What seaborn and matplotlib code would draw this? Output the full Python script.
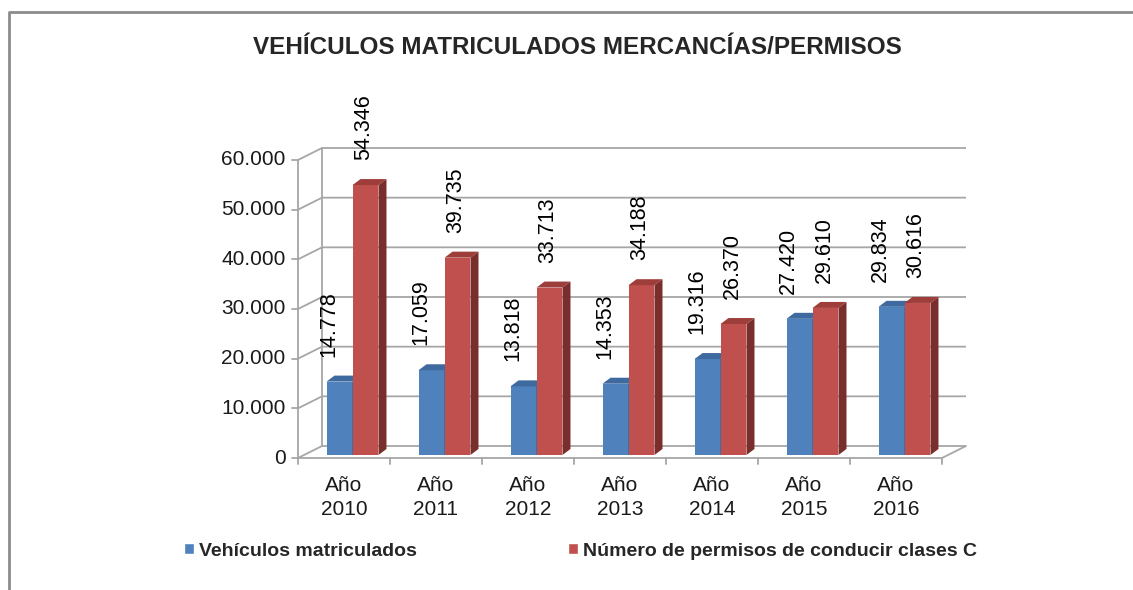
import pandas as pd
import matplotlib.pyplot as plt
import seaborn as sns
from matplotlib.patches import Polygon, Patch

years = ['2010', '2011', '2012', '2013', '2014', '2015', '2016']
vehiculos = [14778, 17059, 13818, 14353, 19316, 27420, 29834]
permisos = [54346, 39735, 33713, 34188, 26370, 29610, 30616]
series = ['Vehículos matriculados', 'Número de permisos de conducir clases C']
y_ticks = [0, 10000, 20000, 30000, 40000, 50000, 60000]

sns.set_style('white')
plt.rcParams['font.family'] = ['Liberation Sans', 'DejaVu Sans']

df = pd.DataFrame({
    'cat': ['Año\n' + y for y in years] * 2,
    'valor': vehiculos + permisos,
    'serie': [series[0]] * 7 + [series[1]] * 7,
})

W, H = 1133, 590
fig = plt.figure(figsize=(W / 100, H / 100), dpi=100)
# axes front plane: x 298..942 px, y 458 (0) .. 160 (60000) px
ax = fig.add_axes([298 / W, (H - 458) / H, 644 / W, 298 / H])

front = ['#4F81BD', '#C0504D']
tops = ['#3E6A9F', '#9E3E3B']
sides = ['#345A88', '#7A2E2C']

sns.barplot(data=df, x='cat', y='valor', hue='serie', palette=front,
            width=0.565, saturation=1, legend=False, ax=ax, linewidth=0)

ax.set_xlim(-0.5, 6.5)
ax.set_ylim(0, 60000)
ax.set_axis_off()

px_x = 92.0           # px per category
px_y = 298 / 60000    # px per value unit
DX, DY = 24 / px_x, 12 / px_y        # wall depth
BX, BY = 8.5 / px_x, 3 / px_y        # bar position inside depth
BDX, BDY = 8 / px_x, 6 / px_y        # bar depth
grid_c = '#A6A6A6'
lw = 1.3

# walls and grid
for v in y_ticks:
    ax.plot([-0.5, -0.5 + DX, 6.5 + DX], [v, v + DY, v + DY], color=grid_c, lw=lw,
            clip_on=False, zorder=0.5, solid_capstyle='butt')
    ax.plot([-0.5 - 6 / px_x, -0.5], [v, v], color=grid_c, lw=lw, clip_on=False, zorder=0.5)
    ax.annotate(f'{v:,}'.replace(',', '.'), xy=(-0.5, v), xytext=(-9, 0),
                textcoords='offset points', ha='right', va='center',
                fontsize=15, color='#1a1a1a', annotation_clip=False)
ax.plot([-0.5, -0.5], [0, 60000], color=grid_c, lw=lw, clip_on=False, zorder=0.6)
ax.plot([-0.5 + DX, -0.5 + DX], [DY, 60000 + DY], color=grid_c, lw=lw, clip_on=False, zorder=0.5)
ax.plot([-0.5, 6.5, 6.5 + DX], [0, 0, DY], color=grid_c, lw=lw, clip_on=False, zorder=0.5)
for i in range(8):
    ax.plot([i - 0.5, i - 0.5], [0, -6 / px_y], color=grid_c, lw=lw, clip_on=False)
for i, y in enumerate(years):
    ax.annotate('Año\n' + y, xy=(i, 0), xytext=(0, -13), textcoords='offset points',
                ha='center', va='top', multialignment='center', fontsize=15,
                color='#1a1a1a', linespacing=1.3, annotation_clip=False)

# bars with 3D faces and labels
for k, (cont, vals) in enumerate(zip(ax.containers, [vehiculos, permisos])):
    for p, v in zip(cont.patches, vals):
        p.set_x(p.get_x() + BX)
        p.set_y(BY)
        p.set_zorder(2 + k)
        x0, w, y0, h = p.get_x(), p.get_width(), BY, p.get_height()
        top = [(x0, y0 + h), (x0 + w, y0 + h), (x0 + w + BDX, y0 + h + BDY), (x0 + BDX, y0 + h + BDY)]
        side = [(x0 + w, y0), (x0 + w + BDX, y0 + BDY), (x0 + w + BDX, y0 + h + BDY), (x0 + w, y0 + h)]
        ax.add_patch(Polygon(top, closed=True, fc=tops[k], ec='none', zorder=2 + k, clip_on=False))
        ax.add_patch(Polygon(side, closed=True, fc=sides[k], ec='none', zorder=2 + k, clip_on=False))
        ax.annotate(f'{v:,}'.replace(',', '.'), xy=(x0 + w / 2, y0 + h),
                    xytext=(-8 if k == 0 else -1, 18), textcoords='offset points',
                    rotation=90, ha='center', va='bottom', fontsize=15.5, color='black',
                    annotation_clip=False, zorder=5)

fig.text(577 / W, 1 - 48 / H, 'VEHÍCULOS MATRICULADOS MERCANCÍAS/PERMISOS',
         ha='center', va='center', fontsize=17.5, fontweight='bold')

handles = [Patch(facecolor=front[0]), Patch(facecolor=front[1])]
fig.legend(handles, series, loc='center left', bbox_to_anchor=(184 / W, 1 - 551 / H),
           ncol=2, frameon=False, borderpad=0, borderaxespad=0,
           handlelength=0.5, handleheight=0.5, handletextpad=0.25, columnspacing=7.8,
           prop={'size': 14, 'weight': 'bold'})

# outer chart border
fig.add_artist(plt.Line2D([9 / W, 9 / W, 1], [0, 1 - 12 / H, 1 - 12 / H],
                          transform=fig.transFigure, color='#8C8C8C', lw=2))

fig.savefig('out.png', dpi=100)
